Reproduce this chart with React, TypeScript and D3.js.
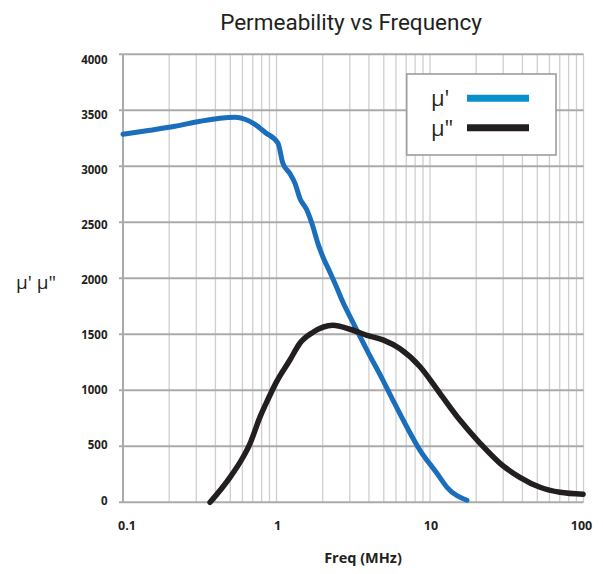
import React from "react";
import * as d3 from "d3";

const yTicks = [0, 500, 1000, 1500, 2000, 2500, 3000, 3500, 4000];
const xTickLabels = [
  { v: 0.1, t: "0.1" },
  { v: 1, t: "1" },
  { v: 10, t: "10" },
  { v: 100, t: "100" },
];

// μ' (real permeability)
const muRealFreq = [0.1, 0.15, 0.218, 0.318, 0.428, 0.537, 0.623, 0.724, 0.841, 1.023, 1.1, 1.22, 1.32, 1.42, 1.58, 1.7, 1.86, 2.01, 2.23, 2.48, 2.71, 3.1, 3.34, 3.89, 4.94, 5.74, 7.08, 8.61, 11.1, 12.9, 17.4];
const muRealVal = [3286, 3321, 3357, 3402, 3429, 3437, 3420, 3375, 3304, 3205, 3027, 2937, 2848, 2714, 2607, 2491, 2312, 2188, 2054, 1911, 1786, 1625, 1536, 1357, 1089, 911, 670, 464, 259, 134, 18];

// μ'' (imaginary permeability)
const muImagFreq = [0.369, 0.498, 0.605, 0.67, 0.78, 0.867, 1.0, 1.22, 1.42, 1.73, 2.33, 3.01, 3.89, 4.94, 6.38, 8.61, 11.6, 15.7, 21.2, 28.6, 38.5, 52.1, 70.3, 99.3];
const muImagVal = [0, 223, 402, 520, 760, 900, 1075, 1268, 1420, 1518, 1580, 1545, 1491, 1450, 1370, 1210, 973, 732, 527, 348, 223, 134, 89, 72];

const FONT = "'Open Sans', sans-serif";

export default function App() {
  const W = 603, H = 574;
  const left = 123, right = 583.5, top = 54.3, bottom = 502.3;
  const x = d3.scaleLog().domain([0.1, 100]).range([left, right]);
  const y = d3.scaleLinear().domain([0, 4000]).range([bottom, top]);
  const yLab = d3.scaleLinear().domain([0, 4000]).range([500.5, 59.5]);

  const minor: number[] = [];
  [0.1, 1, 10].forEach((d) => {
    for (let m = 1; m <= 9; m++) minor.push(d * m);
  });
  minor.push(100);

  const line = d3
    .line<[number, number]>()
    .x((d) => x(d[0]))
    .y((d) => y(d[1]))
    .curve(d3.curveMonotoneX);

  const realPts = muRealFreq.map((f, i) => [f, muRealVal[i]] as [number, number]);
  const imagPts = muImagFreq.map((f, i) => [f, muImagVal[i]] as [number, number]);

  return (
    <svg width={W} height={H} style={{ display: "block", position: "absolute", left: 0, top: 0 }}>
      <rect width={W} height={H} fill="#fff" />
      <text x={351} y={30} textAnchor="middle" fontFamily="Roboto, sans-serif" fontSize={22.5} fill="#231f20">
        Permeability vs Frequency
      </text>
      {minor.map((v, i) => (
        <line key={"v" + i} x1={x(v)} x2={x(v)} y1={top} y2={bottom} stroke="#cfcfcf" strokeWidth={1.3} />
      ))}
      <line x1={left} x2={left} y1={top} y2={bottom} stroke="#ababab" strokeWidth={2} />
      {yTicks.map((v) => (
        <line key={"h" + v} x1={119} x2={right} y1={y(v)} y2={y(v)} stroke="#ababab" strokeWidth={2} />
      ))}
      {yTicks.map((v) => (
        <text key={"yl" + v} x={107.5} y={yLab(v)} dy="0.35em" textAnchor="end" fontFamily={FONT} fontWeight="bold" fontSize={11.5} fill="#231f20">
          {v}
        </text>
      ))}
      {xTickLabels.map((d) => (
        <text key={"xl" + d.t} x={x(d.v) + (d.v === 0.1 ? 4 : d.v === 100 ? -2 : 1)} y={526} dy="0.35em" textAnchor="middle" fontFamily={FONT} fontWeight="bold" fontSize={12.5} fill="#231f20">
          {d.t}
        </text>
      ))}
      <text x={363} y={558} dy="0.35em" textAnchor="middle" fontFamily={FONT} fontWeight="bold" fontSize={14.5} fill="#231f20">
        Freq (MHz)
      </text>
      <text x={36} y={282} dy="0.35em" textAnchor="middle" fontFamily={FONT} fontSize={19} fill="#231f20">
        μ' μ"
      </text>
      <path d={line(realPts) || ""} fill="none" stroke="#1b6ebb" strokeWidth={5} strokeLinejoin="round" strokeLinecap="round" />
      <path d={line(imagPts) || ""} fill="none" stroke="#231f20" strokeWidth={5.5} strokeLinejoin="round" strokeLinecap="round" />
      <g>
        <rect x={406.7} y={74} width={149.3} height={81} fill="#fff" stroke="#9d9d9d" strokeWidth={1.6} />
        <text x={431} y={106} fontFamily={FONT} fontSize={22} fill="#231f20">μ'</text>
        <text x={431} y={136} fontFamily={FONT} fontSize={22} fill="#231f20">μ"</text>
        <line x1={467} x2={529} y1={98.3} y2={98.3} stroke="#0890cb" strokeWidth={7} />
        <line x1={467} x2={529} y1={127.7} y2={127.7} stroke="#231f20" strokeWidth={7} />
      </g>
    </svg>
  );
}
